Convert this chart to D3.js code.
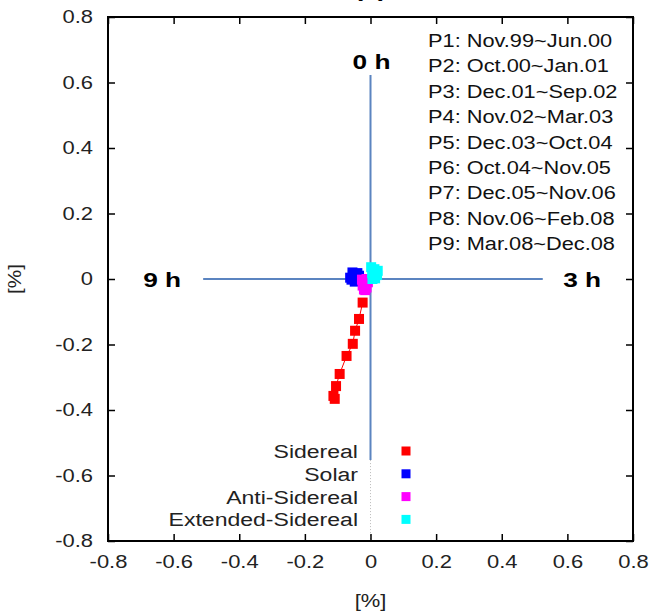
<!DOCTYPE html>
<html><head><meta charset="utf-8">
<script src="https://cdn.jsdelivr.net/npm/d3@7"></script>
<style>body{margin:0;background:#fff}svg{display:block;font-family:"Liberation Sans",Arial,sans-serif}</style>
</head><body>
<svg id="c" width="658" height="616"></svg>
<script>
const xTicks = [-0.8,-0.6,-0.4,-0.2,0,0.2,0.4,0.6,0.8];
const yTicks = [-0.8,-0.6,-0.4,-0.2,0,0.2,0.4,0.6,0.8];
const periods = ["P1: Nov.99~Jun.00","P2: Oct.00~Jan.01","P3: Dec.01~Sep.02","P4: Nov.02~Mar.03","P5: Dec.03~Oct.04","P6: Oct.04~Nov.05","P7: Dec.05~Nov.06","P8: Nov.06~Feb.08","P9: Mar.08~Dec.08"];
const seriesNames = ["Sidereal","Solar","Anti-Sidereal","Extended-Sidereal"];
const seriesColors = ["#ff0000","#0000ff","#ff00ff","#00ffff"];
const siderealX = [-0.024,-0.035,-0.047,-0.054,-0.073,-0.094,-0.105,-0.113,-0.109];
const siderealY = [-0.072,-0.122,-0.158,-0.198,-0.235,-0.290,-0.327,-0.357,-0.366];
const solarX = [-0.052,-0.045,-0.058,-0.040,-0.048,-0.035,-0.055,-0.062,-0.038];
const solarY = [0.012,0.005,-0.002,0.018,-0.008,0.010,0.020,0.004,-0.004];
const antiX = [-0.020,-0.015,-0.024,-0.012,-0.020,-0.008,-0.026,-0.016,-0.012];
const antiY = [-0.005,-0.014,-0.020,-0.026,-0.032,-0.010,-0.002,-0.034,0.000];
const extX = [0.005,0.012,0.018,0.008,0.020,0.002,0.014,0.022,0.006];
const extY = [0.018,0.030,0.022,0.008,0.012,0.036,0.002,0.025,0.000];
const hourLabels = ["0 h","3 h","9 h"];

const SX = 1.22; // horizontal stretch of the reference lettering
const svg = d3.select("#c");
const L=108,R=633,T=17,B=541;
const x = d3.scaleLinear().domain([-0.8,0.8]).range([L,R]);
const y = d3.scaleLinear().domain([-0.8,0.8]).range([B,T]);

function txt(g,px,py,s,opt){
  const t = g.append("text").attr("transform",`translate(${px},${py}) scale(${opt.sx||SX},1)`)
    .attr("font-size",opt.fs).attr("fill",opt.fill||"#222").attr("text-anchor",opt.anchor||"start").text(s);
  if(opt.bold) t.attr("font-weight","bold");
  return t;
}

// axis cross lines
const ac="#5b84c0";
svg.append("line").attr("x1",x(-0.51)).attr("x2",x(0.525)).attr("y1",y(0)).attr("y2",y(0)).attr("stroke",ac).attr("stroke-width",2);
svg.append("line").attr("x1",x(0)).attr("x2",x(0)).attr("y1",y(0.623)).attr("y2",y(-0.553)).attr("stroke",ac).attr("stroke-width",2);
svg.append("line").attr("x1",x(0)).attr("x2",x(0)).attr("y1",y(-0.553)).attr("y2",B).attr("stroke","#bbb").attr("stroke-width",1).attr("stroke-dasharray","1,2");

// hour labels
const hl = svg.append("g");
txt(hl,x(0)+1,y(0.64),hourLabels[0],{fs:21,bold:true,anchor:"middle",fill:"#000",sx:1.25});
txt(hl,x(0.645),y(0)+8,hourLabels[1],{fs:21,bold:true,anchor:"middle",fill:"#000",sx:1.25});
txt(hl,x(-0.635),y(0)+8,hourLabels[2],{fs:21,bold:true,anchor:"middle",fill:"#000",sx:1.25});

// axes
const fs=18;
const fmt = d => String(+d.toFixed(1));
const ax = d3.axisBottom(x).tickValues(xTicks).tickSize(-7).tickPadding(14).tickFormat(fmt);
svg.append("g").attr("transform",`translate(0,${B})`).call(ax);
const axT = d3.axisTop(x).tickValues(xTicks).tickSize(-7).tickFormat("");
svg.append("g").attr("transform",`translate(0,${T})`).call(axT);
const ay = d3.axisLeft(y).tickValues(yTicks).tickSize(-7).tickPadding(15).tickFormat(fmt);
const gy = svg.append("g").attr("transform",`translate(${L},0)`).call(ay);
const ayR = d3.axisRight(y).tickValues(yTicks).tickSize(-7).tickFormat("");
svg.append("g").attr("transform",`translate(${R},0)`).call(ayR);
svg.selectAll(".domain").remove();
svg.selectAll(".tick line").attr("stroke","#000").attr("stroke-width",1.5);
svg.selectAll(".tick text").attr("font-size",fs).attr("fill","#222").attr("font-family","Liberation Sans, Arial, sans-serif")
  .attr("transform",`scale(${SX},1)`);
gy.selectAll(".tick text").attr("x",-15/SX);

// frame
svg.append("rect").attr("x",L).attr("y",T).attr("width",R-L).attr("height",B-T)
  .attr("fill","none").attr("stroke","#000").attr("stroke-width",2);

// axis titles
txt(svg,x(0),607,"[%]",{fs:18,anchor:"middle"});
svg.append("text").attr("transform",`translate(21,${y(0)}) rotate(-90) scale(1.15,1)`).attr("text-anchor","middle").attr("font-size",18).attr("fill","#222").text("[%]");
txt(svg,x(0),-4,"(a)",{fs:22,bold:true,anchor:"middle",fill:"#000"});

// series
const data = [
  d3.zip(siderealX,siderealY),
  d3.zip(solarX,solarY),
  d3.zip(antiX,antiY),
  d3.zip(extX,extY)
];
const line = d3.line().x(d=>x(d[0])).y(d=>y(d[1]));
const ms=10;
data.forEach((pts,i)=>{
  svg.append("path").attr("d",line(pts)).attr("fill","none").attr("stroke",seriesColors[i]).attr("stroke-width",1);
  svg.append("g").selectAll("rect").data(pts).join("rect")
    .attr("x",d=>x(d[0])-ms/2).attr("y",d=>y(d[1])-ms/2).attr("width",ms).attr("height",ms)
    .attr("fill",seriesColors[i]);
});

// period legend
const pg = svg.append("g");
periods.forEach((p,i)=>txt(pg,428,47+i*25.4,p,{fs:18,fill:"#111",sx:1.21}));

// series legend
const lg = svg.append("g");
seriesNames.forEach((n,i)=>{
  const yy = 451+i*22.8;
  txt(lg,358,yy+7,n,{fs:18,anchor:"end",sx:1.28});
  lg.append("rect").attr("x",406-4.5).attr("y",yy-4.5).attr("width",9).attr("height",9).attr("fill",seriesColors[i]);
});
</script>
</body></html>
